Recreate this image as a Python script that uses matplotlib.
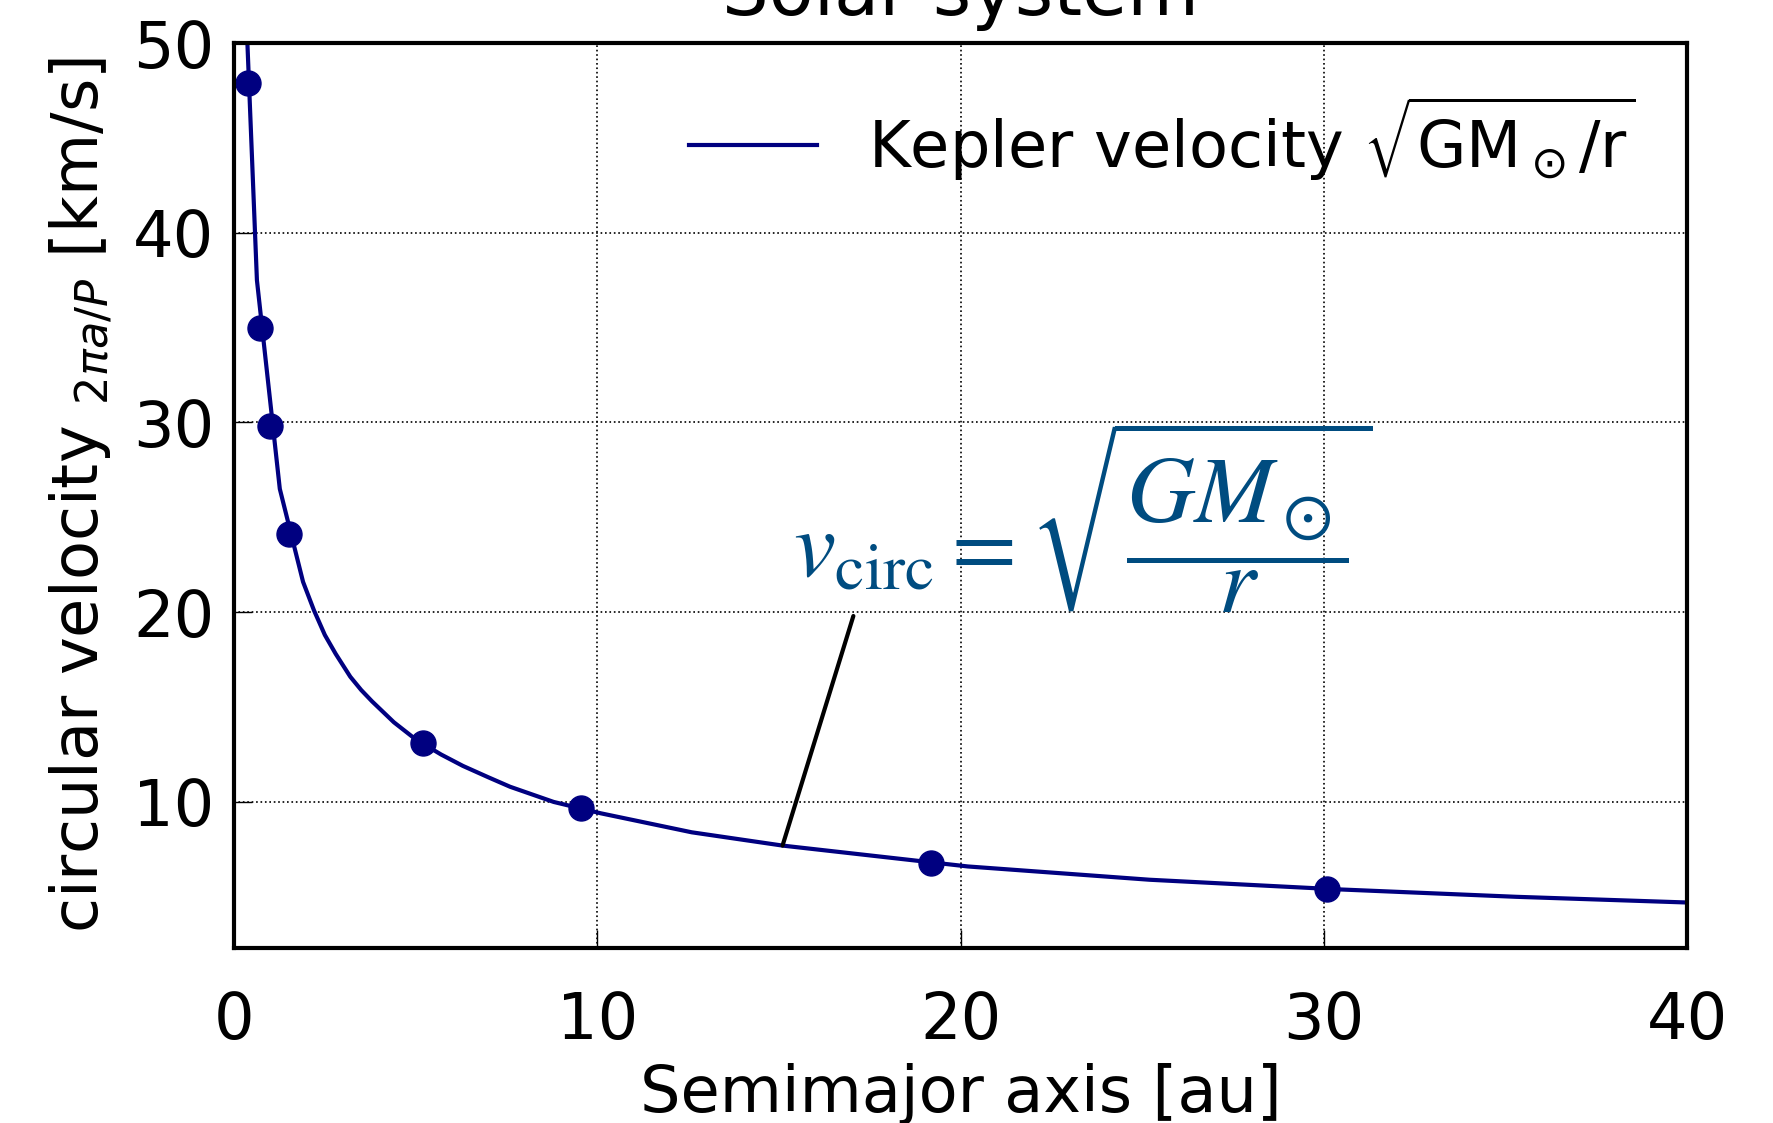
import matplotlib.pyplot as plt

# planets: semimajor axis [au] and orbital velocity [km/s]
planet_a = [0.387, 0.723, 1.0, 1.524, 5.20, 9.54, 19.2, 30.1]
planet_v = [47.9, 35.0, 29.8, 24.1, 13.1, 9.7, 6.8, 5.4]

# Kepler curve
curve_a = [0.33, 0.63, 1.26, 1.9, 2.2, 2.5, 2.8, 3.2, 3.5, 3.8, 4.4, 5.0, 5.7, 6.3,
           7.0, 7.6, 8.8, 10.1, 12.6, 15.1, 20.2, 25.2, 30.3, 35.3, 40.0]
curve_v = [51.8, 37.5, 26.5, 21.6, 20.1, 18.8, 17.8, 16.6, 15.9, 15.3, 14.2, 13.3, 12.5, 11.9,
           11.3, 10.8, 10.0, 9.4, 8.4, 7.7, 6.6, 5.9, 5.4, 5.0, 4.7]

xticks = [0, 10, 20, 30, 40]
yticks = [10, 20, 30, 40, 50]

fs = 46
plt.rcParams['font.family'] = 'DejaVu Sans'
plt.rcParams['mathtext.fontset'] = 'dejavusans'

fig = plt.figure(figsize=(17.73, 11.23), dpi=100)
ax = fig.add_axes([0.132, 0.1558, 0.8195, 0.8059])

ax.plot(curve_a, curve_v, color='navy', lw=3, label=r'Kepler velocity $\sqrt{\mathrm{GM}_\odot/\mathrm{r}}$')
ax.plot(planet_a, planet_v, 'o', color='navy', ms=18)

ax.annotate('', xy=(15.1, 7.7), xytext=(17.05, 19.8),
            arrowprops=dict(arrowstyle='-', color='k', lw=3, shrinkA=0, shrinkB=0))
ax.text(15.4, 25.0, r'$v_\mathrm{circ} = \sqrt{\dfrac{GM_\odot}{r}}$', color='#004c80',
        fontsize=68, ha='left', va='center', math_fontfamily='stix')

ax.set_xlim(0, 40)
ax.set_ylim(2.3, 50)
ax.set_xticks(xticks)
ax.set_yticks(yticks)
ax.tick_params(direction='in', length=13, width=1, labelsize=fs)
ax.tick_params(axis='x', pad=30)
ax.tick_params(axis='y', pad=14)
ax.grid(True, ls=':', color='k', lw=1.2)
for s in ax.spines.values():
    s.set_linewidth(3)

ax.set_xlabel('Semimajor axis [au]', fontsize=fs, labelpad=8)
ax.set_ylabel(r'circular velocity $_{2\pi a/P}$ [km/s]', fontsize=fs, labelpad=14)
ax.set_title('Solar system', fontsize=53, pad=20)
ax.legend(loc='upper right', frameon=False, fontsize=fs, borderaxespad=0.4)

fig.savefig('out.png', dpi=100)
